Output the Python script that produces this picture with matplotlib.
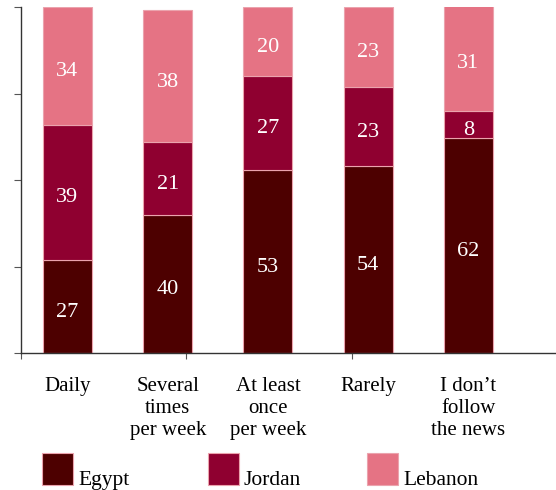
import numpy as np
import matplotlib.pyplot as plt
from matplotlib.patches import Rectangle

# frequency of following the news, share of respondents by country (%)
categories = ["Daily", "Several\ntimes\nper week", "At least\nonce\nper week",
              "Rarely", "I don\u2019t\nfollow\nthe news"]
countries = ["Egypt", "Jordan", "Lebanon"]
egypt = [27, 40, 53, 54, 62]
jordan = [39, 21, 27, 23, 8]
lebanon = [34, 38, 20, 23, 31]

colors = ["#4d0000", "#8f0030", "#e57384"]
edge = "#eba3ad"

plt.rcParams['font.family'] = ['Liberation Serif', 'DejaVu Serif']

fig = plt.figure(figsize=(5.56, 4.9), dpi=100)
ax = fig.add_axes([21 / 556, 1 - 353 / 490, 535 / 556, 346 / 490])

x = np.arange(len(categories))
bottom = np.zeros(len(categories))
for vals, col in zip([egypt, jordan, lebanon], colors):
    vals = np.array(vals)
    ax.bar(x, vals, width=0.49, bottom=bottom, color=col, edgecolor=edge, linewidth=0.8)
    for xi, b, v in zip(x, bottom, vals):
        ax.text(xi, b + v / 2 - 1.7, str(v), ha='center', va='center',
                color='white', fontsize=16)
    bottom += vals

ax.set_xlim(-0.464, 4.875)
ax.set_ylim(0, 100)

for s in ['top', 'right']:
    ax.spines[s].set_visible(False)
for s in ['left', 'bottom']:
    ax.spines[s].set_color('#333333')
    ax.spines[s].set_linewidth(1.0)

ax.set_yticks([0, 25, 50, 75, 100])
ax.set_yticklabels([])
ax.tick_params(axis='y', length=5, color='#555555', width=0.8)
ax.set_xticks([-0.464, 1.18, 2.84])
ax.set_xticklabels([])
ax.tick_params(axis='x', length=4, color='#555555', width=0.8, pad=0)

# category names under each bar
for xi, cat in zip(x, categories):
    ax.text(xi, -0.068, cat, transform=ax.get_xaxis_transform(), ha='center',
            va='top', fontsize=15, linespacing=1.22)

# legend row along the bottom
leg_x = [42, 208, 367]
for lx, name, col in zip(leg_x, countries, colors):
    fig.add_artist(Rectangle((lx / 556, 1 - 485 / 490), 31 / 556, 32 / 490,
                             transform=fig.transFigure, facecolor=col,
                             edgecolor=edge, linewidth=0.8))
    fig.text((lx + 36) / 556, 1 - 485 / 490, name, ha='left', va='baseline',
             fontsize=15.5)

fig.savefig("out.png", dpi=100)
